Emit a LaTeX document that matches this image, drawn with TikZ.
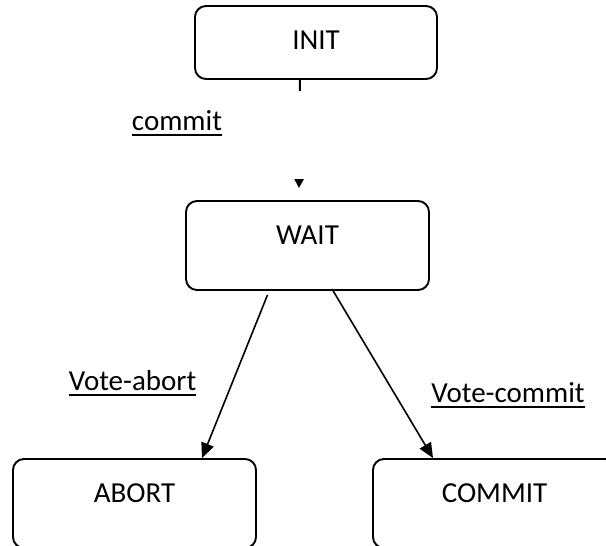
\documentclass[tikz,border=0pt]{standalone}
\usepackage{fontspec}
\setmainfont{Carlito}
\usetikzlibrary{arrows.meta,calc}
\newcommand\uline[1]{\leavevmode\vtop{\hbox{#1}\kern3.5pt\hrule height 2pt}}

\begin{document}
\begin{tikzpicture}[x=1pt,y=-1pt,>={Triangle[length=15pt,width=13pt]},line width=1.6pt,
  state/.style={draw,line width=1.9pt,rounded corners=11pt,minimum width=243pt,inner sep=0pt,
    text height=43pt,text depth=46pt,anchor=base,font=\fontsize{29}{34}\selectfont},
  vote/.style={anchor=base,font=\fontsize{29}{34}\selectfont}]

      \useasboundingbox (0,0) rectangle (606,546);
      \clip (0,0) rectangle (606,546);

      \node[state,minimum width=242pt,text depth=30pt] (INIT) at (316,49) {INIT};
      \node[state] (WAIT) at (307.5,244) {WAIT};
      \node[state] (ABORT) at (134.5,502) {ABORT};
      \node[state] (COMMIT) at (494.5,502) {COMMIT};

      \node[vote] (commit) at (177,130) {\uline{commit}};
      \node[vote] (vabort) at (132.5,390) {\uline{Vote-abort}};
      \node[vote] (vcommit) at (508,402) {\uline{Vote-commit}};

      \draw[-{Triangle[length=9pt,width=9pt]},line width=2pt,dash pattern=on 11pt off 150pt]
        ($(INIT.south)+(-16,0)$) -- ($(WAIT.north)+(-8.5,-12)$);
      \draw[->] ($(WAIT.south)+(-40,4)$) -- ($(ABORT.north)+(67.5,0)$);
      \draw[->] ($(WAIT.south)+(24.5,-2)$) -- ($(COMMIT.north)+(-61.5,0)$);

    \end{tikzpicture}
\end{document}
